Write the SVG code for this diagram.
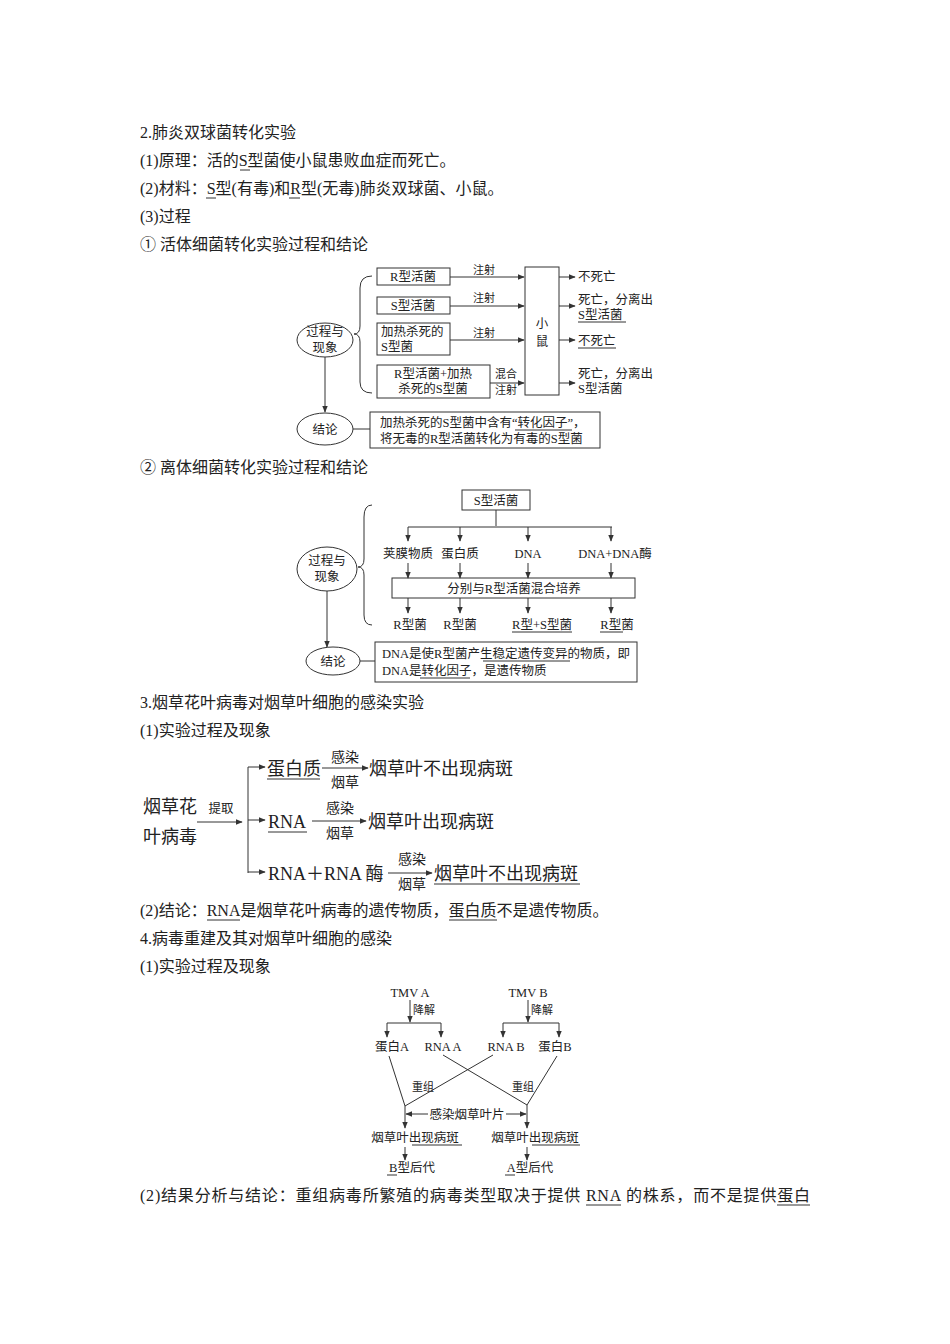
<svg xmlns="http://www.w3.org/2000/svg" width="950" height="1344" viewBox="0 0 950 1344">
<style>
text{font-family:"Liberation Serif","Noto Sans CJK SC",serif;fill:#222}
.b{font-size:16px}
.s{font-size:12.5px}
.t{font-size:11px}
.m{font-size:18px}
.n{font-size:12.5px}
rect,ellipse,path,line{stroke:#333;fill:none;stroke-width:1}
.u{stroke:#333;stroke-width:1}
.ah{fill:#333;stroke:none}
</style>
<defs><marker id="a" viewBox="0 0 10 10" refX="9" refY="5" markerWidth="7" markerHeight="7" orient="auto-start-reverse"><path class="ah" d="M0,1L10,5L0,9z" style="fill:#333;stroke:none"/></marker></defs>
<rect width="950" height="1344" style="fill:#fff;stroke:none"/>
<g id="body">
<text class="b" x="140" y="138">2.肺炎双球菌转化实验</text>
<text class="b" x="140" y="166">(1)原理：活的S型菌使小鼠患败血症而死亡。</text>
<line class="u" x1="240" y1="170" x2="250" y2="170"/>
<text class="b" x="140" y="194">(2)材料：S型(有毒)和R型(无毒)肺炎双球菌、小鼠。</text>
<line class="u" x1="206" y1="198" x2="216" y2="198"/><line class="u" x1="289" y1="198" x2="300" y2="198"/>
<text class="b" x="140" y="222">(3)过程</text>
<text class="b" x="140" y="250">① 活体细菌转化实验过程和结论</text>
<text class="b" x="140" y="473">② 离体细菌转化实验过程和结论</text>
<text class="b" x="140" y="708">3.烟草花叶病毒对烟草叶细胞的感染实验</text>
<text class="b" x="140" y="736">(1)实验过程及现象</text>
<text class="b" x="140" y="916">(2)结论：RNA是烟草花叶病毒的遗传物质，蛋白质不是遗传物质。</text>
<line class="u" x1="207" y1="920" x2="240" y2="920"/><line class="u" x1="449" y1="920" x2="497" y2="920"/>
<text class="b" x="140" y="944">4.病毒重建及其对烟草叶细胞的感染</text>
<text class="b" x="140" y="972">(1)实验过程及现象</text>
<text class="b" x="140" y="1201" textLength="670">(2)结果分析与结论：重组病毒所繁殖的病毒类型取决于提供 RNA 的株系，而不是提供蛋白</text>
<line class="u" x1="586" y1="1205" x2="621" y2="1205"/><line class="u" x1="777" y1="1205" x2="810" y2="1205"/>
</g>
<g id="d1">
<g id="d1n1"><ellipse cx="325" cy="340" rx="28" ry="17"/><text class="n" x="325" y="336" text-anchor="middle">过程与</text><text class="n" x="325" y="352" text-anchor="middle">现象</text></g>
<path d="M372,276 Q360,276 360,288 L360,326 Q360,334 354,334 Q360,334 360,342 L360,382 Q360,393 372,393"/>
<g id="d1b1"><rect x="377" y="268" width="73" height="17"/><text class="s" x="413" y="281" text-anchor="middle">R型活菌</text></g>
<g id="d1b2"><rect x="377" y="297" width="73" height="17"/><text class="s" x="413" y="310" text-anchor="middle">S型活菌</text></g>
<g id="d1b3"><rect x="377" y="323" width="73" height="32"/><text class="s" x="381" y="336">加热杀死的</text><text class="s" x="381" y="351">S型菌</text></g>
<g id="d1b4"><rect x="377" y="365" width="113" height="33"/><text class="s" x="433" y="378" text-anchor="middle">R型活菌+加热</text><text class="s" x="433" y="393" text-anchor="middle">杀死的S型菌</text></g>
<g id="d1m"><rect x="525" y="267" width="34" height="128"/><text class="s" x="542" y="328" text-anchor="middle">小</text><text class="s" x="542" y="346" text-anchor="middle">鼠</text></g>
<g id="d1o"><text class="s" x="578" y="281">不死亡</text><text class="s" x="578" y="304">死亡，分离出</text><text class="s" x="578" y="319">S型活菌</text><line class="u" x1="578" y1="322" x2="626" y2="322"/><text class="s" x="578" y="345">不死亡</text><line class="u" x1="578" y1="348" x2="616" y2="348"/><text class="s" x="578" y="378">死亡，分离出</text><text class="s" x="578" y="393">S型活菌</text></g>
<g id="d1c"><ellipse cx="325" cy="429" rx="28" ry="16"/><text class="n" x="325" y="434" text-anchor="middle">结论</text></g>
<g id="d1cb"><rect x="370" y="412" width="230" height="36"/><text class="s" x="380" y="427">加热杀死的S型菌中含有“转化因子”，</text><line class="u" x1="515" y1="430" x2="572" y2="430"/><text class="s" x="380" y="443">将无毒的R型活菌转化为有毒的S型菌</text></g>
</g>
<g id="d1conn">
<line x1="450" y1="277" x2="524" y2="277" marker-end="url(#a)"/><text class="t" x="484" y="274" text-anchor="middle">注射</text>
<line x1="450" y1="306" x2="524" y2="306" marker-end="url(#a)"/><text class="t" x="484" y="302" text-anchor="middle">注射</text>
<line x1="450" y1="340" x2="524" y2="340" marker-end="url(#a)"/><text class="t" x="484" y="337" text-anchor="middle">注射</text>
<line x1="490" y1="383" x2="524" y2="383" marker-end="url(#a)"/><text class="t" x="506" y="378" text-anchor="middle">混合</text><text class="t" x="506" y="394" text-anchor="middle">注射</text>
<line x1="559" y1="277" x2="575" y2="277" marker-end="url(#a)"/><line x1="559" y1="306" x2="575" y2="306" marker-end="url(#a)"/><line x1="559" y1="340" x2="575" y2="340" marker-end="url(#a)"/><line x1="559" y1="383" x2="575" y2="383" marker-end="url(#a)"/>
<line x1="325" y1="357" x2="325" y2="412" marker-end="url(#a)"/>
<line x1="353" y1="429" x2="370" y2="429"/>
</g>
<g id="d2">
<g id="d2s"><rect x="462" y="490" width="68" height="20"/><text class="s" x="496" y="505" text-anchor="middle">S型活菌</text></g>
<path d="M372,505 Q364,505 364,517 L364,559 Q364,567 358,567 Q364,567 364,575 L364,615 Q364,625 372,625"/>
<g id="d2n1"><ellipse cx="327" cy="569" rx="30" ry="22"/><text class="n" x="327" y="565" text-anchor="middle">过程与</text><text class="n" x="327" y="581" text-anchor="middle">现象</text></g>
<text class="s" x="408" y="558" text-anchor="middle">荚膜物质</text><text class="s" x="460" y="558" text-anchor="middle">蛋白质</text><text class="s" x="528" y="558" text-anchor="middle">DNA</text><text class="s" x="615" y="558" text-anchor="middle">DNA+DNA酶</text>
<g id="d2mix"><rect x="392" y="578" width="243" height="20"/><text class="s" x="514" y="593" text-anchor="middle">分别与R型活菌混合培养</text></g>
<text class="s" x="410" y="629" text-anchor="middle">R型菌</text><text class="s" x="460" y="629" text-anchor="middle">R型菌</text><text class="s" x="542" y="629" text-anchor="middle">R型+S型菌</text><line class="u" x1="512" y1="632" x2="572" y2="632"/><text class="s" x="617" y="629" text-anchor="middle">R型菌</text><line class="u" x1="600" y1="632" x2="623" y2="632"/>
<g id="d2c"><ellipse cx="333" cy="661" rx="27" ry="14"/><text class="n" x="333" y="666" text-anchor="middle">结论</text></g>
<g id="d2cb"><rect x="375" y="642" width="262" height="40"/><text class="s" x="382" y="658">DNA是使R型菌产生稳定遗传变异的物质，即</text><line class="u" x1="483" y1="661" x2="570" y2="661"/><text class="s" x="382" y="675">DNA是转化因子，是遗传物质</text><line class="u" x1="420" y1="678" x2="470" y2="678"/></g>
</g>
<g id="d2conn">
<line x1="496" y1="510" x2="496" y2="526"/><line x1="408" y1="527" x2="612" y2="527"/>
<line x1="408" y1="527" x2="408" y2="541" marker-end="url(#a)"/><line x1="460" y1="527" x2="460" y2="541" marker-end="url(#a)"/><line x1="528" y1="527" x2="528" y2="541" marker-end="url(#a)"/><line x1="611" y1="527" x2="611" y2="541" marker-end="url(#a)"/>
<line x1="408" y1="563" x2="408" y2="578" marker-end="url(#a)"/><line x1="460" y1="563" x2="460" y2="578" marker-end="url(#a)"/><line x1="528" y1="563" x2="528" y2="578" marker-end="url(#a)"/><line x1="611" y1="563" x2="611" y2="578" marker-end="url(#a)"/>
<line x1="408" y1="598" x2="408" y2="613" marker-end="url(#a)"/><line x1="460" y1="598" x2="460" y2="613" marker-end="url(#a)"/><line x1="528" y1="598" x2="528" y2="613" marker-end="url(#a)"/><line x1="611" y1="598" x2="611" y2="613" marker-end="url(#a)"/>
<line x1="327" y1="591" x2="327" y2="647" marker-end="url(#a)"/>
<line x1="360" y1="661" x2="375" y2="661"/>
</g>
<g id="d3">
<text class="m" x="143" y="813">烟草花</text><text class="m" x="143" y="843">叶病毒</text>
<text class="s" x="221" y="813" text-anchor="middle">提取</text>
<text class="m" x="267" y="775">蛋白质</text><line class="u" x1="267" y1="779" x2="320" y2="779"/>
<text class="t" x="345" y="762" text-anchor="middle" style="font-size:14px">感染</text><text class="t" x="345" y="787" text-anchor="middle" style="font-size:14px">烟草</text>
<text class="m" x="369" y="775">烟草叶不出现病斑</text>
<text class="m" x="268" y="828">RNA</text><line class="u" x1="268" y1="832" x2="307" y2="832"/>
<text class="t" x="340" y="813" text-anchor="middle" style="font-size:14px">感染</text><text class="t" x="340" y="838" text-anchor="middle" style="font-size:14px">烟草</text>
<text class="m" x="368" y="828">烟草叶出现病斑</text>
<text class="m" x="268" y="880">RNA＋RNA 酶</text>
<text class="t" x="412" y="864" text-anchor="middle" style="font-size:14px">感染</text><text class="t" x="412" y="889" text-anchor="middle" style="font-size:14px">烟草</text>
<text class="m" x="434" y="880">烟草叶不出现病斑</text><line class="u" x1="434" y1="884" x2="580" y2="884"/>
</g>
<g id="d3conn">
<line x1="197" y1="822" x2="242" y2="822" marker-end="url(#a)"/>
<line x1="248" y1="767" x2="248" y2="873"/>
<line x1="248" y1="767" x2="265" y2="767" marker-end="url(#a)"/><line x1="248" y1="820" x2="265" y2="820" marker-end="url(#a)"/><line x1="248" y1="872" x2="265" y2="872" marker-end="url(#a)"/>
<line x1="322" y1="768" x2="368" y2="768" marker-end="url(#a)"/>
<line x1="312" y1="821" x2="366" y2="821" marker-end="url(#a)"/>
<line x1="388" y1="873" x2="432" y2="873" marker-end="url(#a)"/>
</g>
<g id="d4">
<text class="s" x="410" y="997" text-anchor="middle">TMV A</text><text class="s" x="528" y="997" text-anchor="middle">TMV B</text>
<text class="t" x="413" y="1014">降解</text><text class="t" x="531" y="1014">降解</text>
<text class="s" x="392" y="1051" text-anchor="middle">蛋白A</text><text class="s" x="443" y="1051" text-anchor="middle">RNA A</text><text class="s" x="506" y="1051" text-anchor="middle">RNA B</text><text class="s" x="555" y="1051" text-anchor="middle">蛋白B</text>
<text class="t" x="412" y="1091">重组</text><text class="t" x="512" y="1091">重组</text>
<text class="s" x="467" y="1119" text-anchor="middle">感染烟草叶片</text>
<text class="s" x="415" y="1142" text-anchor="middle">烟草叶出现病斑</text><line class="u" x1="412" y1="1145" x2="462" y2="1145"/>
<text class="s" x="535" y="1142" text-anchor="middle">烟草叶出现病斑</text><line class="u" x1="532" y1="1145" x2="580" y2="1145"/>
<text class="s" x="412" y="1172" text-anchor="middle">B型后代</text><line class="u" x1="387" y1="1175" x2="397" y2="1175"/>
<text class="s" x="530" y="1172" text-anchor="middle">A型后代</text><line class="u" x1="505" y1="1175" x2="515" y2="1175"/>
</g>
<g id="d4conn">
<line x1="410" y1="1000" x2="410" y2="1022" marker-end="url(#a)"/><line x1="387" y1="1023" x2="441" y2="1023"/><line x1="387" y1="1023" x2="387" y2="1037" marker-end="url(#a)"/><line x1="441" y1="1023" x2="441" y2="1037" marker-end="url(#a)"/>
<line x1="528" y1="1000" x2="528" y2="1022" marker-end="url(#a)"/><line x1="503" y1="1023" x2="559" y2="1023"/><line x1="503" y1="1023" x2="503" y2="1037" marker-end="url(#a)"/><line x1="559" y1="1023" x2="559" y2="1037" marker-end="url(#a)"/>
<line x1="389" y1="1056" x2="405" y2="1106"/><line x1="493" y1="1055" x2="405" y2="1106"/>
<line x1="443" y1="1055" x2="527" y2="1105"/><line x1="557" y1="1056" x2="527" y2="1105"/>
<line x1="405" y1="1106" x2="405" y2="1128" marker-end="url(#a)"/><line x1="527" y1="1105" x2="527" y2="1128" marker-end="url(#a)"/>
<line x1="406" y1="1114" x2="428" y2="1114" marker-start="url(#a)"/><line x1="506" y1="1114" x2="526" y2="1114" marker-end="url(#a)"/>
<line x1="405" y1="1147" x2="405" y2="1160" marker-end="url(#a)"/><line x1="527" y1="1147" x2="527" y2="1160" marker-end="url(#a)"/>
</g>
</svg>
